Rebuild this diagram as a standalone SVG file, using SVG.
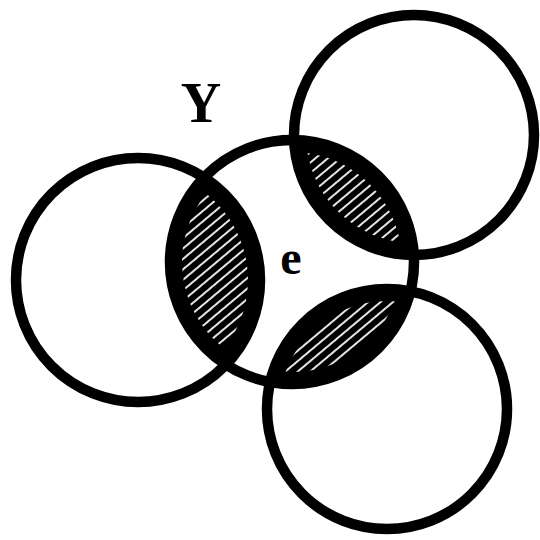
<svg xmlns="http://www.w3.org/2000/svg" width="540" height="540" viewBox="0 0 540 540">
  <style>
    .ring { fill: none; stroke: #000; stroke-width: 10.5; }
    .lab { font-family: "Liberation Serif", "Times New Roman", serif; font-weight: bold; fill: #000; }
  </style>
  <defs>
    <pattern id="hatch" patternUnits="userSpaceOnUse" width="8" height="8" patternTransform="rotate(-40)">
      <rect width="8" height="8" fill="#000"/>
      <line x1="0" y1="4" x2="8" y2="4" stroke="#fff" stroke-width="1.8"/>
    </pattern>
    <clipPath id="cC"><circle cx="292" cy="262" r="122"/></clipPath>
    <clipPath id="cCi"><circle cx="292" cy="262" r="110"/></clipPath>
    <clipPath id="cLi"><circle cx="138" cy="280" r="110"/></clipPath>
    <clipPath id="cTi"><circle cx="414" cy="135" r="108"/></clipPath>
    <clipPath id="cBi"><circle cx="387" cy="409" r="108"/></clipPath>
  </defs>
  <rect width="540" height="540" fill="#fff"/>

  <g id="lenses">
    <g clip-path="url(#cC)">
      <circle cx="138" cy="280" r="122" fill="#000"/>
      <circle cx="414" cy="135" r="120" fill="#000"/>
      <circle cx="387" cy="409" r="120" fill="#000"/>
    </g>
    <g clip-path="url(#cCi)">
      <g clip-path="url(#cLi)"><rect x="0" y="0" width="540" height="540" fill="url(#hatch)"/></g>
      <g clip-path="url(#cTi)"><rect x="0" y="0" width="540" height="540" fill="url(#hatch)"/></g>
      <g clip-path="url(#cBi)"><rect x="0" y="0" width="540" height="540" fill="url(#hatch)"/></g>
    </g>
  </g>

  <g id="circle-left"><circle class="ring" cx="138" cy="280" r="122"/></g>
  <g id="circle-center"><circle class="ring" cx="292" cy="262" r="122"/></g>
  <g id="circle-topright"><circle class="ring" cx="414" cy="135" r="120"/></g>
  <g id="circle-bottom"><circle class="ring" cx="387" cy="409" r="120"/></g>

  <g id="labels">
    <text class="lab" x="201" y="122" font-size="56" text-anchor="middle">Y</text>
    <text class="lab" x="291" y="274" font-size="48" text-anchor="middle">e</text>
  </g>
</svg>
